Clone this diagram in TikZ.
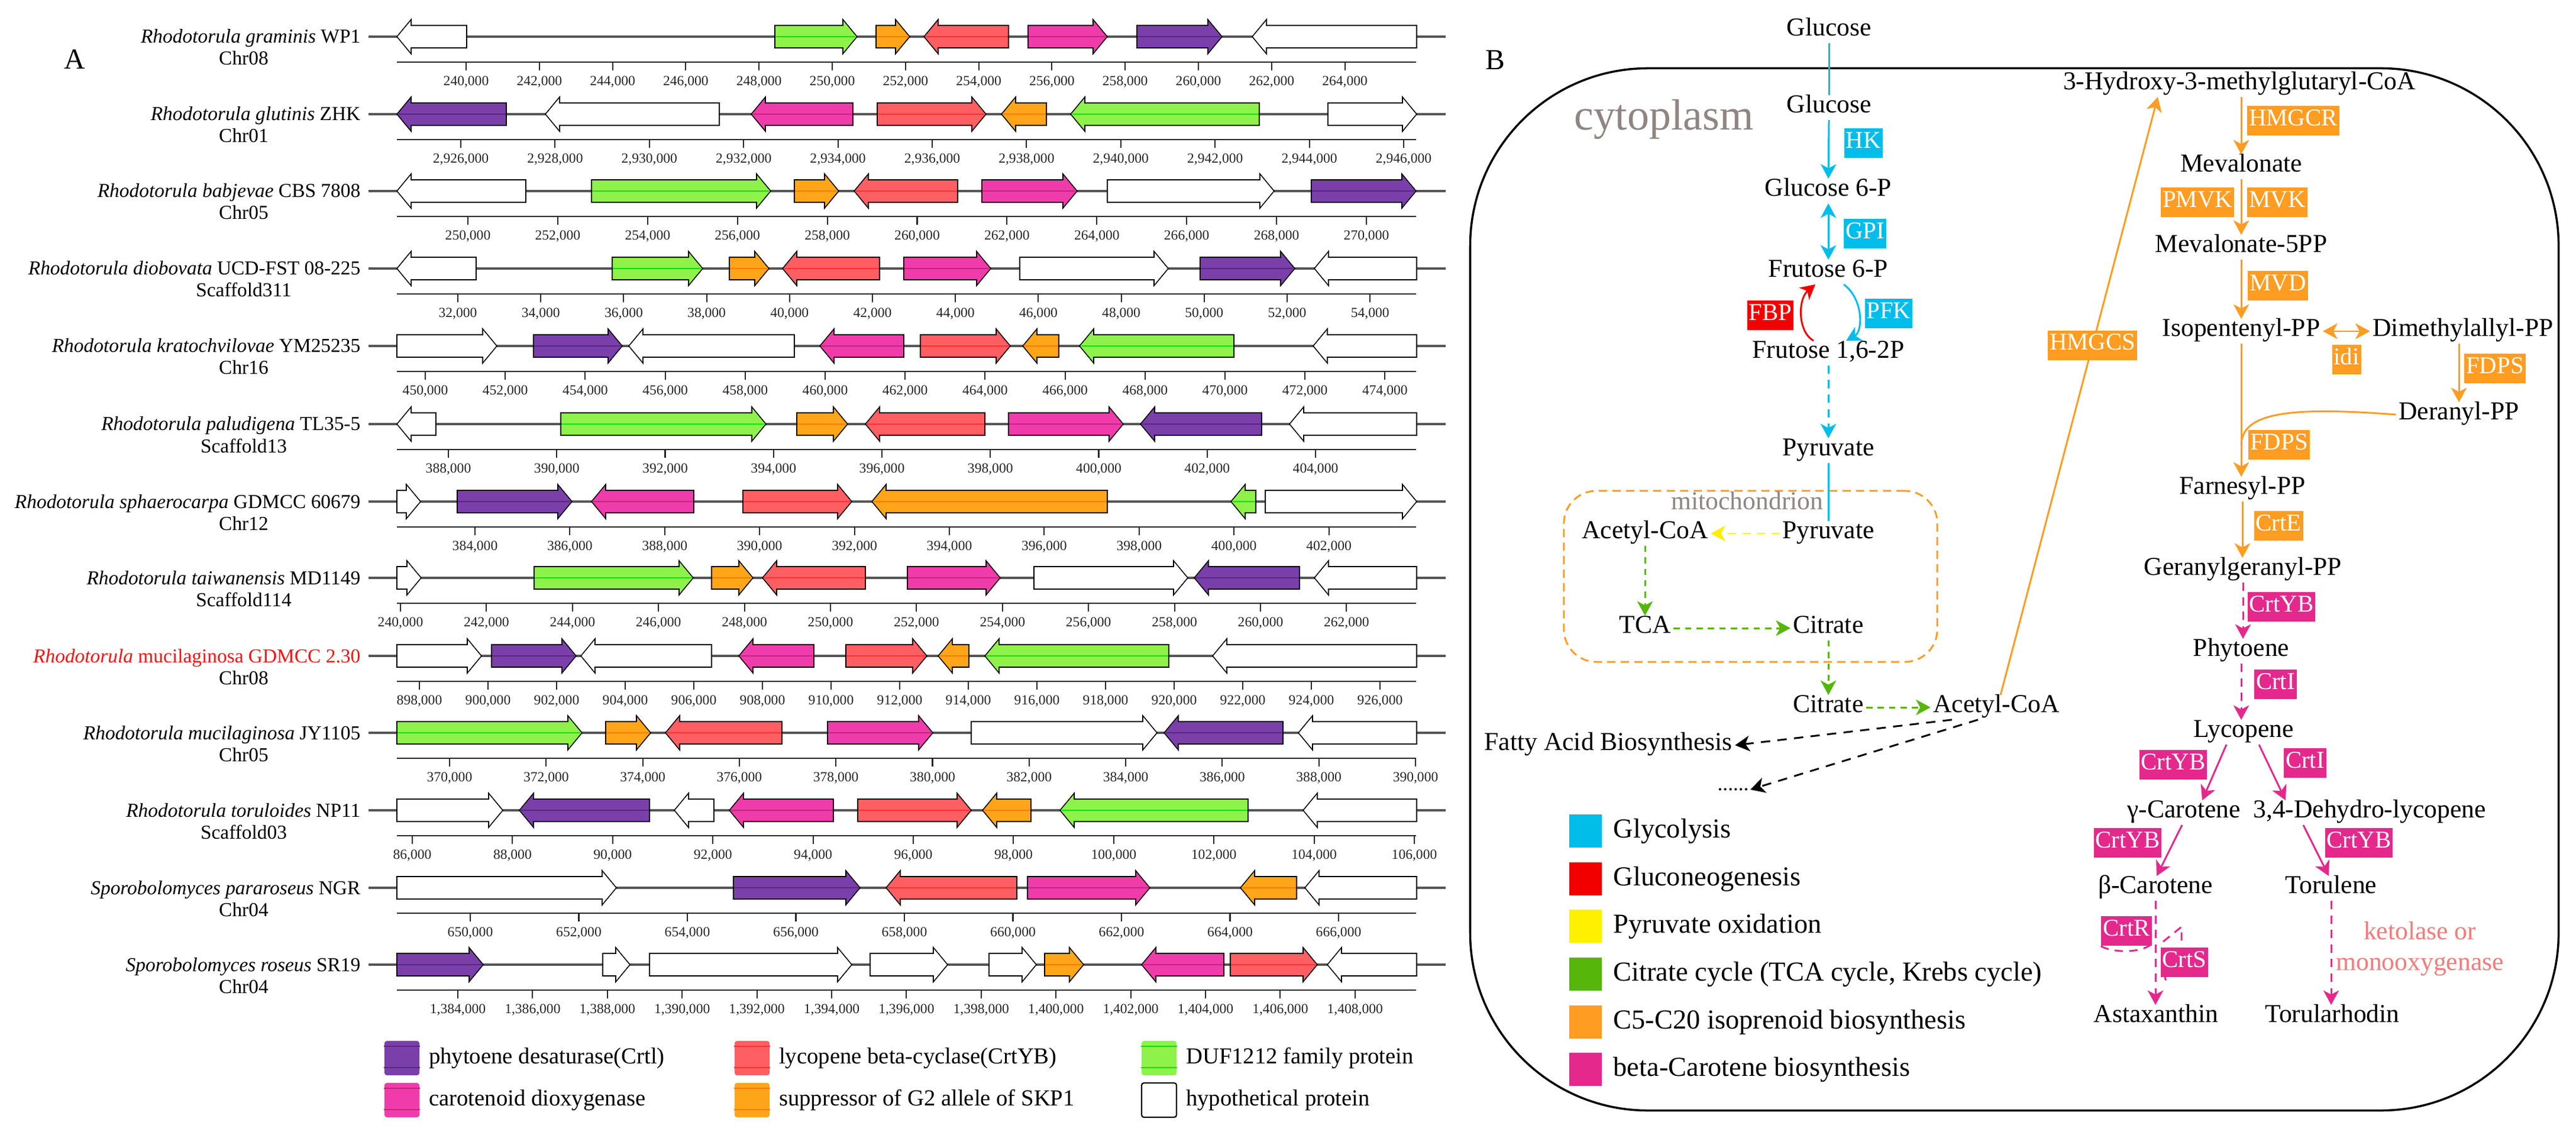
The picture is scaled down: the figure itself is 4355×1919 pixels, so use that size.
\documentclass[tikz,border=0pt]{standalone}
\usepackage{fontspec}
\setmainfont{Liberation Serif}
\usetikzlibrary{arrows.meta,calc}

\definecolor{gpur}{HTML}{7B3FAA}
\definecolor{gpurL}{HTML}{55287F}
\definecolor{gmag}{HTML}{F03CAA}
\definecolor{gmagL}{HTML}{C0257F}
\definecolor{gred}{HTML}{FF5F63}
\definecolor{gredL}{HTML}{FF3030}
\definecolor{gora}{HTML}{FFA51A}
\definecolor{goraL}{HTML}{FF7A00}
\definecolor{ggrn}{HTML}{8EF24A}
\definecolor{ggrnL}{HTML}{10DD10}
\definecolor{gwht}{HTML}{FFFFFF}
\definecolor{gwhtL}{HTML}{FFFFFF}
\definecolor{bbgray}{HTML}{555555}
\definecolor{cyanB}{HTML}{00BDEA}
\definecolor{redB}{HTML}{F20000}
\definecolor{yelB}{HTML}{FFF000}
\definecolor{grnB}{HTML}{56B60A}
\definecolor{oraB}{HTML}{FF9C22}
\definecolor{pnkB}{HTML}{E4288C}
\definecolor{grayT}{HTML}{8F8583}
\definecolor{ketoT}{HTML}{F47B7B}
\definecolor{redlab}{HTML}{FF1010}

\tikzset{
 backbone/.style={draw=bbgray,line width=1.1pt},
 axisline/.style={draw=black!85,line width=0.6pt},
 genebox/.style={draw=black,line width=0.45pt},
 splab/.style={font=\fontsize{9.5}{11}\selectfont,inner sep=0pt},
 ticklab/.style={font=\fontsize{6.7}{8}\selectfont,inner sep=0pt,text=black!85},
 legtxtA/.style={font=\fontsize{11}{13}\selectfont,inner sep=0pt,anchor=west},
 legboxA/.style={minimum width=0.59cm,minimum height=0.58cm,rounded corners=0.04cm,inner sep=0pt},
 panellab/.style={font=\fontsize{14}{16}\selectfont,inner sep=0pt},
 ptxt/.style={font=\fontsize{12.4}{15}\selectfont,inner sep=0.04cm,text height=0.7em,text depth=0.22em},
 enz/.style={fill=#1,text=white,font=\fontsize{11.6}{13}\selectfont,inner xsep=0.03cm,inner ysep=0pt,minimum height=0.5cm,text height=0.68em,text depth=0.2em},
 legtxtB/.style={font=\fontsize{13.2}{15}\selectfont,inner sep=0pt,anchor=west},
 legboxB/.style={minimum width=0.55cm,minimum height=0.56cm,inner sep=0pt},
 pw/.style={line width=0.85pt},
 arrS/.style={-{Stealth[length=7pt,width=7.5pt,inset=2pt]}},
 arrD/.style={{Stealth[length=7pt,width=7.5pt,inset=2pt]}-{Stealth[length=7pt,width=7.5pt,inset=2pt]}},
 dashB/.style={dash pattern=on 4pt off 3pt},
 dashG/.style={dash pattern=on 3pt off 2.5pt},
 dashK/.style={dash pattern=on 4.5pt off 3.5pt},
}

% gene arrows: x1, x2, y, colour
\newcommand\gR[4]{%
 \filldraw[genebox,fill=#4] (#1,{#3-19}) -- ({#2-24},{#3-19}) -- ({#2-24},{#3-29}) -- (#2,#3) -- ({#2-24},{#3+29}) -- ({#2-24},{#3+19}) -- (#1,{#3+19}) -- cycle;
 \draw[#4L,line width=0.5pt] ({#1+1},#3) -- ({#2-3},#3);}
\newcommand\gL[4]{%
 \filldraw[genebox,fill=#4] (#1,#3) -- ({#1+24},{#3-29}) -- ({#1+24},{#3-19}) -- (#2,{#3-19}) -- (#2,{#3+19}) -- ({#1+24},{#3+19}) -- ({#1+24},{#3+29}) -- cycle;
 \draw[#4L,line width=0.5pt] ({#1+3},#3) -- ({#2-1},#3);}
% species row: id, y, label, chromosome
\newcommand\sprow[4]{%
 \draw[backbone] (623,#2) -- (2444,#2);
 \node[splab,anchor=base east] (sp#1) at (610,{#2+11}) {#3};
 \node[splab,anchor=base] (ch#1) at (412,{#2+48}) {#4};}
% axis: id, y, x0, dx, prefix, startK, last index
\newcommand\axisrow[7]{%
 \draw[axisline] (671,{#2+43}) -- (2394,{#2+43});
 \foreach \i in {0,...,#7}{%
  \pgfmathsetmacro\xx{#3+\i*#4}%
  \pgfmathtruncatemacro\kk{#6+2*\i}%
  \draw[axisline] (\xx,{#2+43}) -- (\xx,{#2+57});
  \node[ticklab] (tk#1-\i) at (\xx,{#2+76}) {#5\kk,000};
 }}
\newcommand\legA[5]{%
 \node[legboxA,fill=#4] (la#1) at (#2,#3) {};
 \draw[#4L,line width=0.5pt] ([yshift=-0.1cm]la#1.north west) -- ([yshift=-0.1cm]la#1.north east);
 \draw[#4L,line width=0.5pt] ([yshift=0.14cm]la#1.south west) -- ([yshift=0.14cm]la#1.south east);
 \node[legtxtA] (lat#1) at ({#2+45},#3) {#5};}

\begin{document}
\begin{tikzpicture}[x=0.01cm,y=-0.01cm]
\useasboundingbox (0,0) rectangle (4355,1919);
\fill[white] (0,0) rectangle (4355,1919);

%%%%%%%%%%%%%%%% PANEL A
\node[panellab] (labA) at (126,100) {A};

\sprow{1}{62}{\textit{Rhodotorula graminis} WP1}{Chr08}
\axisrow{1}{62}{788}{123.8}{}{240}{12}
\gL{671}{789}{62}{gwht}
\gR{1310}{1449}{62}{ggrn}
\gR{1481}{1538}{62}{gora}
\gL{1562}{1705}{62}{gred}
\gR{1738}{1872}{62}{gmag}
\gR{1922}{2066}{62}{gpur}
\gL{2117}{2395}{62}{gwht}

\sprow{2}{193}{\textit{Rhodotorula glutinis} ZHK}{Chr01}
\axisrow{2}{193}{779}{159.4}{2,}{926}{10}
\gL{671}{856}{193}{gpur}
\gL{922}{1216}{193}{gwht}
\gL{1270}{1442}{193}{gmag}
\gR{1483}{1667}{193}{gred}
\gL{1693}{1769}{193}{gora}
\gL{1810}{2129}{193}{ggrn}
\gR{2245}{2395}{193}{gwht}

\sprow{3}{323}{\textit{Rhodotorula babjevae} CBS 7808}{Chr05}
\axisrow{3}{323}{791}{151.9}{}{250}{10}
\gL{671}{889}{323}{gwht}
\gR{1000}{1303}{323}{ggrn}
\gR{1343}{1418}{323}{gora}
\gL{1444}{1619}{323}{gred}
\gR{1660}{1821}{323}{gmag}
\gR{1872}{2154}{323}{gwht}
\gR{2217}{2394}{323}{gpur}

\sprow{4}{454}{\textit{Rhodotorula diobovata} UCD-FST 08-225}{Scaffold311}
\axisrow{4}{454}{774}{140.2}{}{32}{11}
\gL{671}{805}{454}{gwht}
\gR{1035}{1188}{454}{ggrn}
\gR{1233}{1300}{454}{gora}
\gL{1323}{1487}{454}{gred}
\gR{1528}{1675}{454}{gmag}
\gR{1724}{1975}{454}{gwht}
\gR{2029}{2189}{454}{gpur}
\gL{2222}{2395}{454}{gwht}

\sprow{5}{585}{\textit{Rhodotorula kratochvilovae} YM25235}{Chr16}
\axisrow{5}{585}{719}{135.2}{}{450}{12}
\gR{671}{840}{585}{gwht}
\gR{902}{1052}{585}{gpur}
\gL{1063}{1343}{585}{gwht}
\gL{1386}{1528}{585}{gmag}
\gR{1556}{1708}{585}{gred}
\gL{1729}{1790}{585}{gora}
\gL{1825}{2086}{585}{ggrn}
\gL{2220}{2395}{585}{gwht}

\sprow{6}{717}{\textit{Rhodotorula paludigena} TL35-5}{Scaffold13}
\axisrow{6}{717}{758}{183.25}{}{388}{8}
\gL{671}{737}{717}{gwht}
\gR{948}{1295}{717}{ggrn}
\gR{1347}{1433}{717}{gora}
\gL{1463}{1665}{717}{gred}
\gR{1705}{1899}{717}{gmag}
\gL{1928}{2133}{717}{gpur}
\gL{2180}{2395}{717}{gwht}

\sprow{7}{848}{\textit{Rhodotorula sphaerocarpa} GDMCC 60679}{Chr12}
\axisrow{7}{848}{803}{160.4}{}{384}{9}
\gR{671}{711}{848}{gwht}
\gR{773}{967}{848}{gpur}
\gL{1000}{1173}{848}{gmag}
\gR{1256}{1440}{848}{gred}
\gL{1474}{1872}{848}{gora}
\gL{2081}{2123}{848}{ggrn}
\gR{2139}{2395}{848}{gwht}

\sprow{8}{977}{\textit{Rhodotorula taiwanensis} MD1149}{Scaffold114}
\axisrow{8}{977}{677}{145.4}{}{240}{11}
\gR{671}{712}{977}{gwht}
\gR{903}{1172}{977}{ggrn}
\gR{1203}{1273}{977}{gora}
\gL{1289}{1463}{977}{gred}
\gR{1534}{1691}{977}{gmag}
\gR{1748}{2008}{977}{gwht}
\gL{2019}{2197}{977}{gpur}
\gL{2222}{2395}{977}{gwht}

\sprow{9}{1109}{\textcolor{redlab}{\textit{Rhodotorula} mucilaginosa GDMCC 2.30}}{Chr08}
\axisrow{9}{1109}{709}{116}{}{898}{14}
\gR{671}{814}{1109}{gwht}
\gR{831}{974}{1109}{gpur}
\gL{982}{1203}{1109}{gwht}
\gL{1249}{1376}{1109}{gmag}
\gR{1430}{1567}{1109}{gred}
\gL{1586}{1638}{1109}{gora}
\gL{1665}{1976}{1109}{ggrn}
\gL{2050}{2395}{1109}{gwht}

\sprow{10}{1239}{\textit{Rhodotorula mucilaginosa} JY1105}{Chr05}
\axisrow{10}{1239}{760}{163.3}{}{370}{10}
\gR{671}{984}{1239}{ggrn}
\gR{1024}{1100}{1239}{gora}
\gL{1125}{1322}{1239}{gred}
\gR{1399}{1577}{1239}{gmag}
\gR{1642}{1956}{1239}{gwht}
\gL{1968}{2169}{1239}{gpur}
\gL{2195}{2395}{1239}{gwht}

\sprow{11}{1370}{\textit{Rhodotorula toruloides} NP11}{Scaffold03}
\axisrow{11}{1370}{697}{169.4}{}{86}{10}
\gR{671}{850}{1370}{gwht}
\gL{878}{1098}{1370}{gpur}
\gL{1140}{1207}{1370}{gwht}
\gL{1233}{1409}{1370}{gmag}
\gR{1450}{1642}{1370}{gred}
\gL{1661}{1743}{1370}{gora}
\gL{1792}{2110}{1370}{ggrn}
\gL{2203}{2395}{1370}{gwht}

\sprow{12}{1501}{\textit{Sporobolomyces pararoseus} NGR}{Chr04}
\axisrow{12}{1501}{795}{183.5}{}{650}{8}
\gR{671}{1042}{1501}{gwht}
\gR{1240}{1454}{1501}{gpur}
\gL{1498}{1719}{1501}{gred}
\gR{1737}{1944}{1501}{gmag}
\gL{2097}{2192}{1501}{gora}
\gL{2206}{2395}{1501}{gwht}

\sprow{13}{1631}{\textit{Sporobolomyces roseus} SR19}{Chr04}
\axisrow{13}{1631}{774}{126.4}{1,}{384}{12}
\gR{671}{817}{1631}{gpur}
\gR{1019}{1065}{1631}{gwht}
\gR{1098}{1440}{1631}{gwht}
\gR{1471}{1602}{1631}{gwht}
\gR{1672}{1752}{1631}{gwht}
\gR{1766}{1832}{1631}{gora}
\gL{1930}{2069}{1631}{gmag}
\gR{2080}{2227}{1631}{gred}
\gL{2244}{2395}{1631}{gwht}

% legend A
\legA{1}{679.5}{1789}{gpur}{phytoene desaturase(Crtl)}
\legA{2}{679.5}{1860}{gmag}{carotenoid dioxygenase}
\legA{3}{1271.5}{1789}{gred}{lycopene beta-cyclase(CrtYB)}
\legA{4}{1271.5}{1860}{gora}{suppressor of G2 allele of SKP1}
\legA{5}{1959.5}{1789}{ggrn}{DUF1212 family protein}
\node[legboxA,draw=black,line width=0.6pt,fill=white] (la6) at (1959.5,1860) {};
\node[legtxtA] (lat6) at (2004.5,1860) {hypothetical protein};

%%%%%%%%%%%%%%%% PANEL B
\node[panellab] (labB) at (2528,101) {B};
\node[draw=black,line width=1pt,rounded corners=3cm,minimum width=18.39cm,minimum height=17.61cm,inner sep=0pt] (cyto) at (3405.5,996.5) {};
\node[draw=oraB,line width=0.85pt,dash pattern=on 4pt off 2.5pt,rounded corners=0.55cm,minimum width=6.31cm,minimum height=2.89cm,inner sep=0pt] (mito) at (2959.5,974.5) {};
\node[font=\fontsize{21}{24}\selectfont,text=grayT,inner sep=0pt] (cytotxt) at (2813,202) {cytoplasm};
\node[ptxt,text=grayT] (mitotxt) at (2954,853) {mitochondrion};

\node[ptxt] (gluc1) at (3092,52) {Glucose};
\node[ptxt] (gluc2) at (3092,182) {Glucose};
\node[ptxt] (g6p) at (3091,323) {Glucose 6-P};
\node[ptxt] (f6p) at (3091,460) {Frutose 6-P};
\node[ptxt] (f16) at (3091,597) {Frutose 1,6-2P};
\node[ptxt] (pyr1) at (3091,762) {Pyruvate};
\node[ptxt] (pyr2) at (3091,902) {Pyruvate};
\node[ptxt] (acoa1) at (2781,902) {Acetyl-CoA};
\node[ptxt] (tca) at (2781,1062) {TCA};
\node[ptxt] (cit1) at (3091,1062) {Citrate};
\node[ptxt] (cit2) at (3091,1196) {Citrate};
\node[ptxt] (acoa2) at (3375,1196) {Acetyl-CoA};
\node[ptxt] (fab) at (2719,1260) {Fatty Acid Biosynthesis};
\node[font=\fontsize{10}{12}\selectfont,inner sep=0.02cm] (dots) at (2930,1335) {......};
\node[ptxt] (hmg) at (3786,143) {3-Hydroxy-3-methylglutaryl-CoA};
\node[ptxt] (mev) at (3789,282) {Mevalonate};
\node[ptxt] (mev5) at (3789,418) {Mevalonate-5PP};
\node[ptxt] (ipp) at (3789,560) {Isopentenyl-PP};
\node[ptxt] (dmapp) at (4164,560) {Dimethylallyl-PP};
\node[ptxt] (der) at (4157,701) {Deranyl-PP};
\node[ptxt] (fpp) at (3791,827) {Farnesyl-PP};
\node[ptxt] (ggpp) at (3792,964) {Geranylgeranyl-PP};
\node[ptxt] (phy) at (3789,1101) {Phytoene};
\node[ptxt] (lyc) at (3793,1238) {Lycopene};
\node[ptxt] (gcar) at (3692,1374) {γ-Carotene};
\node[ptxt] (dhl) at (4006,1374) {3,4-Dehydro-lycopene};
\node[ptxt] (bcar) at (3644,1502) {β-Carotene};
\node[ptxt] (tor) at (3941,1502) {Torulene};
\node[ptxt] (asta) at (3645,1720) {Astaxanthin};
\node[ptxt] (torh) at (3943,1720) {Torularhodin};
\node[font=\fontsize{12.4}{15}\selectfont,text=ketoT,align=center,inner sep=0pt] (keto) at (4091,1604) {ketolase or\\monooxygenase};
\coordinate (fdpsjoin) at (3789,752);

% glycolysis
\draw[pw,cyanB] (gluc1.south) -- (gluc2.north);
\draw[pw,cyanB,arrS] (gluc2.south) -- (g6p.north);
\draw[pw,cyanB,arrD] (g6p.south) -- (f6p.north);
\draw[pw,redB,arrS] ([xshift=-0.25cm]f16.north) .. controls (3038,560) and (3040,505) .. ([xshift=-0.22cm]f6p.south);
\draw[pw,cyanB,arrS] ([xshift=0.26cm]f6p.south) .. controls (3150,505) and (3150,560) .. ([xshift=0.3cm]f16.north);
\draw[pw,cyanB,arrS,dashB] (f16.south) -- (pyr1.north);
\draw[pw,cyanB] (pyr1.south) -- (pyr2.north);
\draw[pw,yelB,arrS,dashB] (pyr2.west) -- (acoa1.east);
\draw[pw,grnB,arrS,dashG] (acoa1.south) -- (tca.north);
\draw[pw,grnB,arrS,dashG] (tca.east) -- (cit1.west);
\draw[pw,grnB,arrS,dashG] (cit1.south) -- (cit2.north);
\draw[pw,grnB,arrS,dashG] (cit2.east) -- (acoa2.west);
\draw[pw,black,arrS,dashK] ([xshift=-0.75cm]acoa2.south) -- (fab.east);
\draw[pw,black,arrS,dashK] ([xshift=-0.31cm]acoa2.south) -- (dots.east);

% mevalonate pathway
\draw[pw,oraB,arrS] ([xshift=0.07cm]acoa2.north) -- node[enz=oraB,pos=0.585] (eHMGCS) {HMGCS} ([xshift=-1.38cm]hmg.south);
\draw[pw,oraB,arrS] (mev.north |- hmg.south) -- (mev.north);
\draw[pw,oraB,arrS] (mev.south) -- (mev5.north);
\draw[pw,oraB,arrS] (mev5.south) -- (ipp.north);
\draw[pw,oraB,arrD] (ipp.east) -- (dmapp.west);
\draw[pw,oraB,arrS] (der.north |- dmapp.south) -- (der.north);
\draw[pw,oraB,arrS] (ipp.south) -- (ipp.south |- fpp.north);
\draw[pw,oraB] (der.west) .. controls (3880,688) and (3790,695) .. (fdpsjoin);
\draw[pw,oraB,arrS] (fpp.south) -- (fpp.south |- ggpp.north);

% carotenoid pathway
\draw[pw,pnkB,arrS,dashB] (ggpp.south) -- (ggpp.south |- phy.north);
\draw[pw,pnkB,arrS,dashB] (phy.south) -- (phy.south |- lyc.north);
\draw[pw,pnkB,arrS] ([xshift=-0.29cm]lyc.south) -- ([xshift=0.31cm]gcar.north);
\draw[pw,pnkB,arrS] ([xshift=0.26cm]lyc.south) -- ([xshift=-1.42cm]dhl.north);
\draw[pw,pnkB,arrS] ([xshift=-0.03cm]gcar.south) -- ([xshift=0.02cm]bcar.north);
\draw[pw,pnkB,arrS] ([xshift=-1.12cm]dhl.south) -- ([xshift=-0.04cm]tor.north);
\draw[pw,pnkB,arrS,dashB] (bcar.south) -- (bcar.south |- asta.north);
\draw[pw,pnkB,arrS,dashB] (tor.south) -- (tor.south |- torh.north);

% enzymes
\node[enz=cyanB] (eHK) at (3150,242) {HK};
\node[enz=cyanB] (eGPI) at (3153,395) {GPI};
\node[enz=redB] (eFBP) at (2993,533) {FBP};
\node[enz=cyanB] (ePFK) at (3193,530) {PFK};
\node[enz=oraB] (eHMGCR) at (3877,204) {HMGCR};
\node[enz=oraB] (ePMVK) at (3715,342) {PMVK};
\node[enz=oraB] (eMVK) at (3850,342) {MVK};
\node[enz=oraB] (eMVD) at (3851,483) {MVD};
\node[enz=oraB] (eidi) at (3967,608) {idi};
\node[enz=oraB] (eFDPS1) at (4218,623) {FDPS};
\node[enz=oraB] (eFDPS2) at (3853,752) {FDPS};
\node[enz=oraB] (eCrtE) at (3852,889) {CrtE};
\node[enz=pnkB] (eCrtYB1) at (3857,1026) {CrtYB};
\node[enz=pnkB] (eCrtI1) at (3847,1157) {CrtI};
\node[enz=pnkB] (eCrtYB2) at (3674,1293) {CrtYB};
\node[enz=pnkB] (eCrtI2) at (3897,1290) {CrtI};
\node[enz=pnkB] (eCrtYB3) at (3597,1425) {CrtYB};
\node[enz=pnkB] (eCrtYB4) at (3988,1425) {CrtYB};
\node[enz=pnkB] (eCrtR) at (3595,1574) {CrtR};
\node[enz=pnkB] (eCrtS) at (3693,1627) {CrtS};
\draw[pw,pnkB,dashB] (eCrtR.south west) .. controls (3575,1612) and (3625,1612) .. (3642,1592);
\draw[pw,pnkB,dashB] (3657,1592) -- (3688,1567) -- (3688,1600);
\draw[pw,pnkB,dashB] (3663,1644) .. controls (3659,1656) .. (3667,1660);

% legend B
\node[legboxB,fill=cyanB] (lb1) at (2680.5,1405) {};
\node[legtxtB] (lt1) at (2727,1405) {Glycolysis};
\node[legboxB,fill=redB] (lb2) at (2680.5,1486) {};
\node[legtxtB] (lt2) at (2727,1486) {Gluconeogenesis};
\node[legboxB,fill=yelB] (lb3) at (2680.5,1566) {};
\node[legtxtB] (lt3) at (2727,1566) {Pyruvate oxidation};
\node[legboxB,fill=grnB] (lb4) at (2680.5,1647) {};
\node[legtxtB] (lt4) at (2727,1647) {Citrate cycle (TCA cycle, Krebs cycle)};
\node[legboxB,fill=oraB] (lb5) at (2680.5,1728) {};
\node[legtxtB] (lt5) at (2727,1728) {C5-C20 isoprenoid biosynthesis};
\node[legboxB,fill=pnkB] (lb6) at (2680.5,1808) {};
\node[legtxtB] (lt6) at (2727,1808) {beta-Carotene biosynthesis};
\end{tikzpicture}
\end{document}
